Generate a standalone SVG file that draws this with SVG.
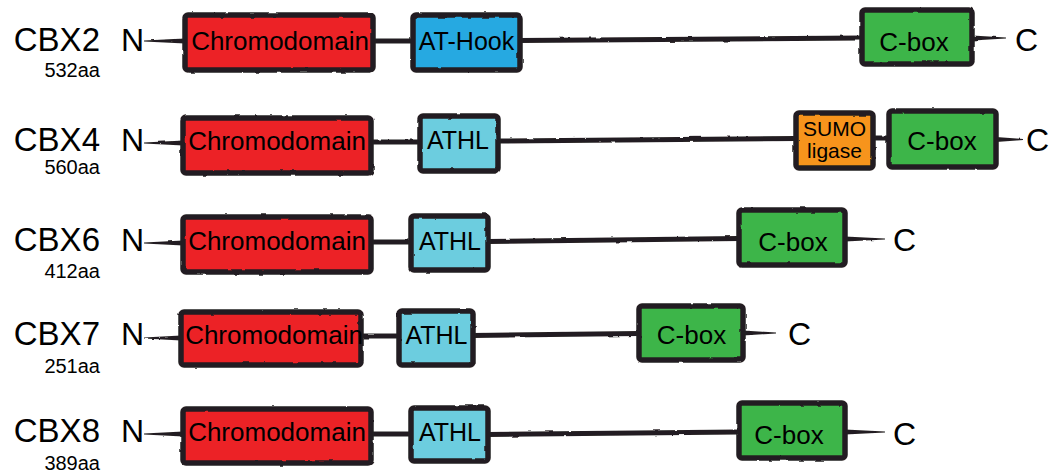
<svg xmlns="http://www.w3.org/2000/svg" width="1052" height="473" viewBox="0 0 1052 473">
  <defs>
    <!-- slight wobble so outlines and backbone lines read as brush strokes -->
    <filter id="rough" filterUnits="userSpaceOnUse" x="0" y="0" width="1052" height="473">
      <feTurbulence type="fractalNoise" baseFrequency="0.09" numOctaves="2" seed="3" result="n"/>
      <feDisplacementMap in="SourceGraphic" in2="n" scale="2.2" xChannelSelector="R" yChannelSelector="G"/>
    </filter>
    <style>
      text { font-family: "Liberation Sans", Arial, sans-serif; fill: #000; }
      .name { font-size: 33px; text-anchor: end; }
      .len { font-size: 20px; text-anchor: end; }
      .term { font-size: 32px; }
      .dom { font-size: 26px; text-anchor: middle; }
      .small { font-size: 25px; text-anchor: middle; }
      .sumo { font-size: 21px; text-anchor: middle; }
      .box { stroke: #231F20; stroke-width: 5.5; stroke-linejoin: round; filter: url(#rough); }
      .chromo { fill: #EC2227; }
      .athook { fill: #27A9E1; }
      .athl { fill: #6CCDDF; }
      .cbox { fill: #3DB54A; }
      .sumofill { fill: #F7941E; }
      .bb { stroke: #231F20; stroke-width: 5; fill: none; }
      .tip { fill: #231F20; stroke: none; }
    </style>
  </defs>

  <!-- protein backbones -->
  <g id="connectors" filter="url(#rough)">
    <!-- CBX2 -->
    <path class="tip" d="M144,40.5 L185,38.5 L185,43.5 L144,41.5 Z"/>
    <line class="bb" x1="373" y1="41" x2="413" y2="41"/>
    <line class="bb" x1="520" y1="40.5" x2="862" y2="38"/>
    <path class="tip" d="M972,35.5 L1006,37.5 L1006,38.5 L972,40.5 Z"/>
    <!-- CBX4 -->
    <path class="tip" d="M144,142.5 L183,140.5 L183,145.5 L144,143.5 Z"/>
    <line class="bb" x1="371" y1="142" x2="420" y2="142"/>
    <line class="bb" x1="498" y1="141" x2="796" y2="138.5"/>
    <line class="bb" x1="873" y1="138" x2="889" y2="138"/>
    <path class="tip" d="M996,137 L1023,139 L1023,140 L996,142 Z"/>
    <!-- CBX6 -->
    <path class="tip" d="M144,242.5 L183,240.5 L183,245.5 L144,243.5 Z"/>
    <line class="bb" x1="371" y1="242" x2="411" y2="242"/>
    <line class="bb" x1="488" y1="241.5" x2="739" y2="238.5"/>
    <path class="tip" d="M845,236.5 L885,238.5 L885,239.5 L845,241.5 Z"/>
    <!-- CBX7 -->
    <path class="tip" d="M144,337.5 L181,335.5 L181,340.5 L144,338.5 Z"/>
    <line class="bb" x1="361" y1="336" x2="399" y2="336"/>
    <line class="bb" x1="473" y1="335.5" x2="639" y2="333.5"/>
    <path class="tip" d="M743,330.5 L776,332.5 L776,333.5 L743,335.5 Z"/>
    <!-- CBX8 -->
    <path class="tip" d="M144,433.5 L183,431.5 L183,436.5 L144,434.5 Z"/>
    <line class="bb" x1="371" y1="434" x2="411" y2="434"/>
    <line class="bb" x1="488" y1="434.5" x2="739" y2="432"/>
    <path class="tip" d="M845,429.5 L885,431.5 L885,432.5 L845,434.5 Z"/>
  </g>

  <!-- CBX2 -->
  <g id="cbx2">
    <text class="name" x="100" y="51">CBX2</text>
    <text class="len" x="100" y="77">532aa</text>
    <text class="term" x="121" y="51">N</text>
    <g id="cbx2-chromo"><rect class="box chromo" x="185" y="15" width="188" height="55" rx="3"/><text class="dom" x="280" y="50">Chromodomain</text></g>
    <g id="cbx2-athook"><rect class="box athook" x="413" y="15" width="107" height="55" rx="3"/><text class="small" x="466.5" y="50">AT-Hook</text></g>
    <g id="cbx2-cbox"><rect class="box cbox" x="862" y="10" width="110" height="54" rx="3"/><text class="dom" x="914" y="51">C-box</text></g>
    <text class="term" x="1015" y="51">C</text>
  </g>

  <!-- CBX4 -->
  <g id="cbx4">
    <text class="name" x="100" y="151">CBX4</text>
    <text class="len" x="100" y="174">560aa</text>
    <text class="term" x="121" y="151">N</text>
    <g id="cbx4-chromo"><rect class="box chromo" x="183" y="118" width="188" height="55" rx="3"/><text class="dom" x="277" y="150">Chromodomain</text></g>
    <g id="cbx4-athl"><rect class="box athl" x="420" y="116" width="78" height="55" rx="3"/><text class="small" x="458" y="149">ATHL</text></g>
    <g id="cbx4-sumo"><rect class="box sumofill" x="796" y="113" width="77" height="55" rx="3"/><text class="sumo" x="834.5" y="136">SUMO</text><text class="sumo" x="834.5" y="158">ligase</text></g>
    <g id="cbx4-cbox"><rect class="box cbox" x="889" y="111" width="107" height="56" rx="3"/><text class="dom" x="942" y="150">C-box</text></g>
    <text class="term" x="1026" y="151">C</text>
  </g>

  <!-- CBX6 -->
  <g id="cbx6">
    <text class="name" x="100" y="251">CBX6</text>
    <text class="len" x="100" y="278">412aa</text>
    <text class="term" x="121" y="251">N</text>
    <g id="cbx6-chromo"><rect class="box chromo" x="183" y="217" width="188" height="55" rx="3"/><text class="dom" x="277" y="250">Chromodomain</text></g>
    <g id="cbx6-athl"><rect class="box athl" x="411" y="216" width="77" height="54" rx="3"/><text class="small" x="450" y="250">ATHL</text></g>
    <g id="cbx6-cbox"><rect class="box cbox" x="739" y="210" width="106" height="55" rx="3"/><text class="dom" x="793" y="251">C-box</text></g>
    <text class="term" x="893" y="251">C</text>
  </g>

  <!-- CBX7 -->
  <g id="cbx7">
    <text class="name" x="100" y="345">CBX7</text>
    <text class="len" x="100" y="373">251aa</text>
    <text class="term" x="121" y="345">N</text>
    <g id="cbx7-chromo"><rect class="box chromo" x="181" y="312" width="180" height="53" rx="3"/><text class="dom" x="274" y="344">Chromodomain</text></g>
    <g id="cbx7-athl"><rect class="box athl" x="399" y="311" width="74" height="54" rx="3"/><text class="small" x="436.5" y="344">ATHL</text></g>
    <g id="cbx7-cbox"><rect class="box cbox" x="639" y="306" width="104" height="54" rx="3"/><text class="dom" x="691.5" y="344">C-box</text></g>
    <text class="term" x="788" y="345">C</text>
  </g>

  <!-- CBX8 -->
  <g id="cbx8">
    <text class="name" x="100" y="442">CBX8</text>
    <text class="len" x="100" y="470">389aa</text>
    <text class="term" x="121" y="442">N</text>
    <g id="cbx8-chromo"><rect class="box chromo" x="183" y="409" width="188" height="54" rx="3"/><text class="dom" x="277" y="441">Chromodomain</text></g>
    <g id="cbx8-athl"><rect class="box athl" x="411" y="408" width="77" height="53" rx="3"/><text class="small" x="450" y="441">ATHL</text></g>
    <g id="cbx8-cbox"><rect class="box cbox" x="739" y="403" width="106" height="55" rx="3"/><text class="dom" x="789" y="444">C-box</text></g>
    <text class="term" x="893" y="445">C</text>
  </g>
</svg>
